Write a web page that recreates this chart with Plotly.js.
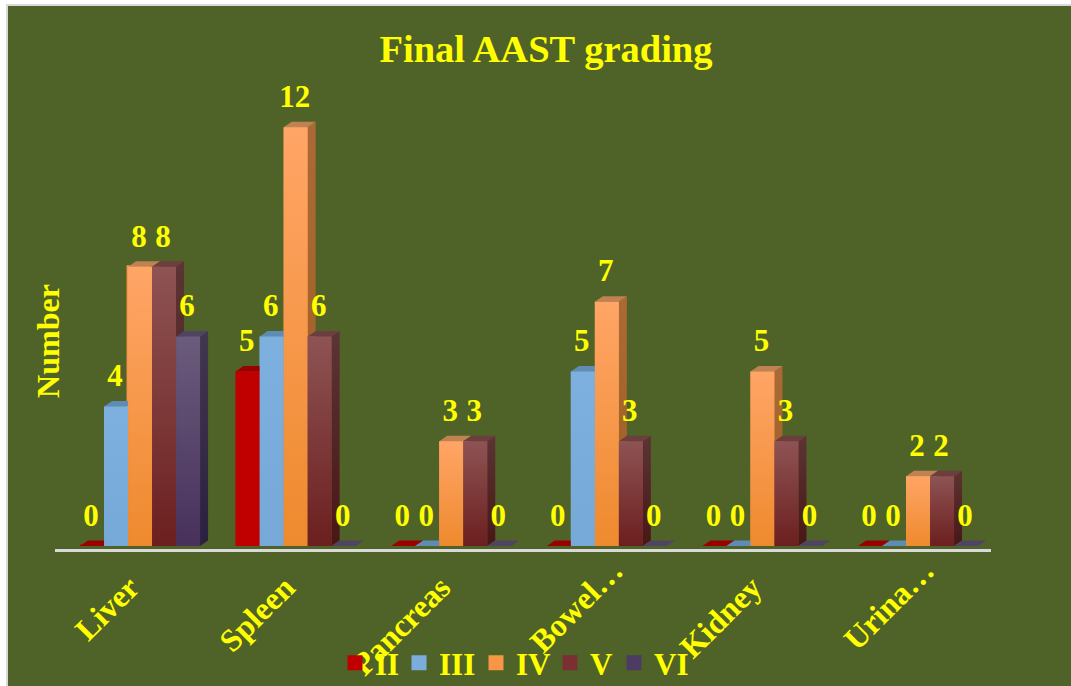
<!DOCTYPE html>
<html><head><meta charset="utf-8">
<script src="https://cdn.plot.ly/plotly-3.0.1.min.js"></script>
<style>
html,body{margin:0;padding:0;background:#fff;overflow:hidden}
#frame{position:absolute;left:6px;top:4px;width:1065px;height:682px;background:#d9d9d9}
#chart{position:absolute;left:8px;top:6px;width:1063px;height:680px}
</style></head><body>
<div id="frame"></div><div id="chart"></div>
<script>
const categories = ["Liver","Spleen","Pancreas","Bowel…","Kidney","Urina…"];
const seriesNames = ["II","III","IV","V","VI"];
const II  = [0,5,0,0,0,0];
const III = [4,6,0,5,0,0];
const IV  = [8,12,3,7,5,2];
const V   = [8,6,3,3,3,2];
const VI  = [6,0,0,0,0,0];
const seriesValues = [II,III,IV,V,VI];

const frontTop    = ["#c00000","#7db0df","#ffa566","#8e5353","#6b5b7c"];
const frontBottom = ["#c00000","#77a9d8","#ee8a2e","#6c1f1f","#47315c"];
const sideTop     = ["#8f0000","#5c88ae","#ab6a35","#5c3434","#41374f"];
const sideBottom  = ["#8f0000","#55809f","#a05c22","#4a1616","#2b2140"];
const topFace     = ["#990000","#5f8cb4","#c08252","#6c3e3e","#4f4560"];
const legendColor = ["#c00000","#7aaddc","#f79646","#7a3030","#4d3b62"];
const legendWidths = [19,32,29,19,30];

const YELLOW = "#ffff00", OLIVE = "#4f6228", FONT = "Liberation Serif";
// geometry helpers, in axis units
const pxPerCat = 155.6, pxPerUnit = 34.9;
const bw = 24/pxPerCat, start = -0.339, dx = 8/pxPerCat, dy = 5.5/pxPerUnit;
const labelGap = 28/pxPerUnit;

const traces = [];
// bars (carry the legend); the first point listed sets the legend swatch size,
// so a zero-height category goes first when the series has one
seriesValues.forEach((vals,s)=>{
  const idx = vals.map((_,i)=>i).sort((a,b)=>(vals[a]===0?0:1)-(vals[b]===0?0:1)||a-b);
  traces.push({type:"bar",name:seriesNames[s],x:idx,y:idx.map(i=>vals[i]),
    width:bw,offset:start+s*bw,
    marker:{color:legendColor[s],line:{color:legendColor[s],width:idx.map((_,k)=>k===0?3:0)}},
    legendwidth:legendWidths[s],
    hoverinfo:"name+y",cliponaxis:false});
});
function poly(xs,ys,top,bottom){
  const t={type:"scatter",mode:"lines",x:xs,y:ys,fill:"toself",line:{width:0},
    showlegend:false,hoverinfo:"skip",cliponaxis:false};
  if(top===bottom) t.fillcolor=top;
  else t.fillgradient={type:"vertical",colorscale:[[0,bottom],[1,top]]};
  return t;
}
// thin floor strip under the bars
traces.push(poly([-0.5,5.5,5.5,-0.5,-0.5],[0,0,-2.4/pxPerUnit,-2.4/pxPerUnit,0],OLIVE,OLIVE));
// depth faces and gradient fronts, painted bar by bar
categories.forEach((_,c)=>{
  seriesValues.forEach((vals,s)=>{
    const v=vals[c], x0=c+start+s*bw, x1=x0+bw;
    if(v>0) traces.push(poly([x1,x1+dx,x1+dx,x1,x1],[0,dy,v+dy,v,0],sideTop[s],sideBottom[s]));
    traces.push(poly([x0,x1,x1+dx,x0+dx,x0],[v,v,v+dy,v+dy,v],topFace[s],topFace[s]));
    if(v>0) traces.push(poly([x0,x1,x1,x0,x0],[0,0,v,v,0],frontTop[s],frontBottom[s]));
  });
});
// data labels
seriesValues.forEach((vals,s)=>{
  traces.push({type:"scatter",mode:"text",x:vals.map((_,c)=>c+start+s*bw+bw/2-1/pxPerCat),
    y:vals.map(v=>v+labelGap),text:vals.map(String),textposition:"middle center",
    textfont:{family:FONT,size:31,color:YELLOW,weight:700},
    showlegend:false,hoverinfo:"skip",cliponaxis:false});
});

// the ellipsis of the shortened labels runs past the tick: the other labels are padded to compensate
const tickText = categories.map(c=>c.endsWith("…")?c:c+"\u00a0\u00a0\u00a0");

const layout={
  width:1063,height:680,
  margin:{l:47,r:80,t:74,b:84},
  paper_bgcolor:OLIVE,plot_bgcolor:OLIVE,
  barmode:"overlay",
  title:{text:"Final AAST grading",font:{family:FONT,size:38.5,color:YELLOW,weight:700},
    x:538/1063,xanchor:"center",y:1-43/680,yanchor:"middle"},
  xaxis:{range:[-0.5,-0.5+936/pxPerCat],tickmode:"array",tickvals:categories.map((_,i)=>i),ticktext:tickText,
    tickangle:-45,tickfont:{family:FONT,size:32,color:YELLOW,weight:700},
    ticklabelstandoff:-13,ticklabelshift:14,
    showgrid:false,zeroline:false,showline:true,linecolor:"#d9d9d9",linewidth:3,ticks:"",
    anchor:"free",position:52/522},
  yaxis:{range:[-56/pxPerUnit,466/pxPerUnit],showticklabels:false,showgrid:false,zeroline:false,ticks:"",
    anchor:"free",position:16/936,
    title:{text:"Number",standoff:0,font:{family:FONT,size:32,color:YELLOW,weight:700}}},
  legend:{orientation:"h",xref:"container",x:(335-8)/1063,xanchor:"left",
    yref:"container",y:1-(663-6)/680,yanchor:"middle",
    bgcolor:"rgba(0,0,0,0)",font:{family:FONT,size:31,color:YELLOW,weight:700},
    itemclick:false,itemdoubleclick:false},
  showlegend:true
};
Plotly.newPlot("chart",traces,layout,{displayModeBar:false,responsive:false});
</script></body></html>
